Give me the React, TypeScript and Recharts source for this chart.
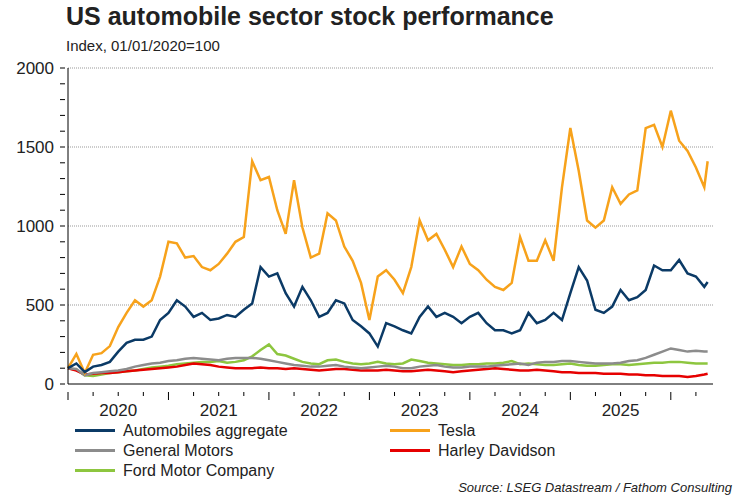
import { LineChart, Line, XAxis, YAxis, CartesianGrid } from "recharts";

const tesla = [100, 190, 70, 185, 195, 240, 360, 450, 530, 490, 530, 680, 900, 890, 800, 810, 740, 720, 760, 825, 900, 930, 1410, 1290, 1310, 1100, 950, 1290, 990, 800, 825, 1080, 1035, 870, 780, 640, 405, 680, 720, 660, 575, 740, 1035, 910, 950, 850, 740, 870, 760, 720, 660, 615, 595, 640, 930, 780, 780, 910, 780, 1245, 1620, 1350, 1035, 990, 1035, 1245, 1140, 1200, 1225, 1620, 1640, 1500, 1730, 1540, 1475, 1370, 1245, 1410];
const aggregate = [100, 130, 75, 110, 120, 140, 205, 260, 280, 280, 300, 405, 450, 530, 490, 425, 450, 405, 415, 437, 425, 470, 510, 740, 680, 700, 575, 490, 615, 530, 425, 450, 530, 510, 405, 365, 320, 237, 385, 365, 340, 320, 425, 490, 425, 450, 425, 385, 425, 450, 385, 340, 340, 320, 340, 450, 385, 405, 450, 405, 575, 740, 655, 470, 450, 490, 595, 530, 550, 595, 750, 720, 720, 785, 700, 680, 615, 645];
const gm = [100, 95, 55, 70, 75, 80, 85, 95, 110, 120, 130, 135, 145, 150, 160, 165, 160, 155, 150, 160, 165, 165, 165, 160, 150, 140, 130, 120, 115, 110, 110, 115, 120, 110, 105, 100, 105, 110, 115, 110, 100, 100, 110, 115, 120, 110, 105, 105, 110, 110, 110, 115, 120, 125, 130, 120, 135, 140, 140, 145, 145, 140, 135, 130, 130, 130, 135, 145, 150, 165, 185, 205, 225, 215, 205, 210, 205, 205];
const ford = [100, 90, 55, 50, 60, 70, 75, 80, 85, 95, 105, 110, 115, 125, 130, 135, 140, 140, 145, 135, 140, 150, 175, 215, 250, 190, 180, 160, 140, 130, 125, 150, 155, 140, 130, 125, 130, 140, 130, 125, 130, 155, 145, 135, 130, 125, 120, 120, 125, 125, 130, 130, 135, 145, 125, 130, 125, 120, 120, 125, 130, 120, 115, 115, 120, 125, 125, 120, 125, 130, 135, 135, 140, 140, 135, 130, 130, 130];
const harley = [100, 85, 60, 65, 70, 70, 75, 80, 85, 90, 95, 100, 105, 110, 120, 130, 125, 120, 110, 105, 100, 100, 100, 105, 100, 100, 95, 100, 95, 90, 85, 90, 95, 95, 90, 85, 85, 85, 90, 85, 80, 80, 85, 90, 85, 80, 75, 80, 85, 90, 95, 100, 95, 90, 85, 85, 90, 85, 80, 75, 75, 70, 70, 70, 65, 65, 65, 60, 60, 55, 55, 50, 50, 50, 45, 50, 60, 65];

const SERIES = [
  { key: "aggregate", name: "Automobiles aggregate", color: "#0b3a66", values: aggregate },
  { key: "tesla", name: "Tesla", color: "#f7a21b", values: tesla },
  { key: "gm", name: "General Motors", color: "#8c8c8c", values: gm },
  { key: "harley", name: "Harley Davidson", color: "#e60000", values: harley },
  { key: "ford", name: "Ford Motor Company", color: "#8dc63f", values: ford },
];

const data = tesla.map((_, i) => {
  const row: Record<string, number> = { t: 2020 + (i === tesla.length - 1 ? i - 0.6 : i) / 12 };
  SERIES.forEach((s) => (row[s.key] = s.values[i]));
  return row;
});

const xTicks = Array.from({ length: 26 }, (_, i) => 2020 + i / 4);
const yTicks = Array.from({ length: 21 }, (_, i) => i * 100);
const FONT = "'Liberation Sans', Arial, sans-serif";

const XTick = ({ x, y, payload }: any) => {
  const v = payload.value;
  const major = v % 1 === 0;
  return (
    <g>
      <line x1={x} x2={x} y1={y} y2={y + (major ? 8 : 4)} stroke="#000" />
      {v % 1 === 0.5 && v < 2026 && (
        <text x={x} y={y + 24} textAnchor="middle" fontSize={17} fill="#222" fontFamily={FONT}>
          {Math.floor(v)}
        </text>
      )}
    </g>
  );
};

const YTick = ({ x, y, payload }: any) => {
  const v = payload.value;
  return (
    <g>
      <line x1={x} x2={x + 5} y1={y} y2={y} stroke="#000" />
      {v % 500 === 0 && (
        <text x={x - 6} y={y + 6} textAnchor="end" fontSize={17} fill="#222" fontFamily={FONT}>
          {v}
        </text>
      )}
    </g>
  );
};

export default function App() {
  return (
    <div style={{ position: "fixed", left: 0, top: 0, width: 750, height: 500, background: "#fff", fontFamily: FONT }}>
      <div style={{ position: "absolute", left: 66, top: 2, fontSize: 25, fontWeight: 700, color: "#222" }}>
        US automobile sector stock performance
      </div>
      <div style={{ position: "absolute", left: 66, top: 37, fontSize: 15, color: "#222" }}>
        Index, 01/01/2020=100
      </div>
      <LineChart width={750} height={420} data={data} margin={{ top: 68, right: 37, left: 0, bottom: 6 }}>
        <CartesianGrid vertical={false} horizontalValues={[500, 1000, 1500, 2000]} stroke="#999" strokeDasharray="1 1" />
        <XAxis
          dataKey="t"
          type="number"
          domain={[2020, 2026.42]}
          ticks={xTicks}
          tick={<XTick />}
          tickLine={false}
          axisLine={{ stroke: "#000" }}
          height={30}
          interval={0}
        />
        <YAxis
          domain={[0, 2000]}
          ticks={yTicks}
          tick={<YTick />}
          tickLine={false}
          axisLine={{ stroke: "#000" }}
          width={68}
          interval={0}
        />
        {[...SERIES].reverse().map((s) => (
          <Line key={s.key} dataKey={s.key} stroke={s.color} strokeWidth={2.5} dot={false} isAnimationActive={false} type="linear" />
        ))}
      </LineChart>
      <div style={{ position: "absolute", left: 75, top: 421, display: "grid", gridTemplateColumns: "315px 300px", rowGap: 1, fontSize: 16, color: "#222" }}>
        {SERIES.map((s) => (
          <div key={s.key} style={{ display: "flex", alignItems: "center", height: 19 }}>
            <div style={{ width: 40, height: 3, background: s.color, marginRight: 8 }} />
            {s.name}
          </div>
        ))}
      </div>
      <div style={{ position: "absolute", right: 18, top: 480, fontSize: 13, fontStyle: "italic", color: "#222" }}>
        Source: LSEG Datastream / Fathom Consulting
      </div>
    </div>
  );
}
